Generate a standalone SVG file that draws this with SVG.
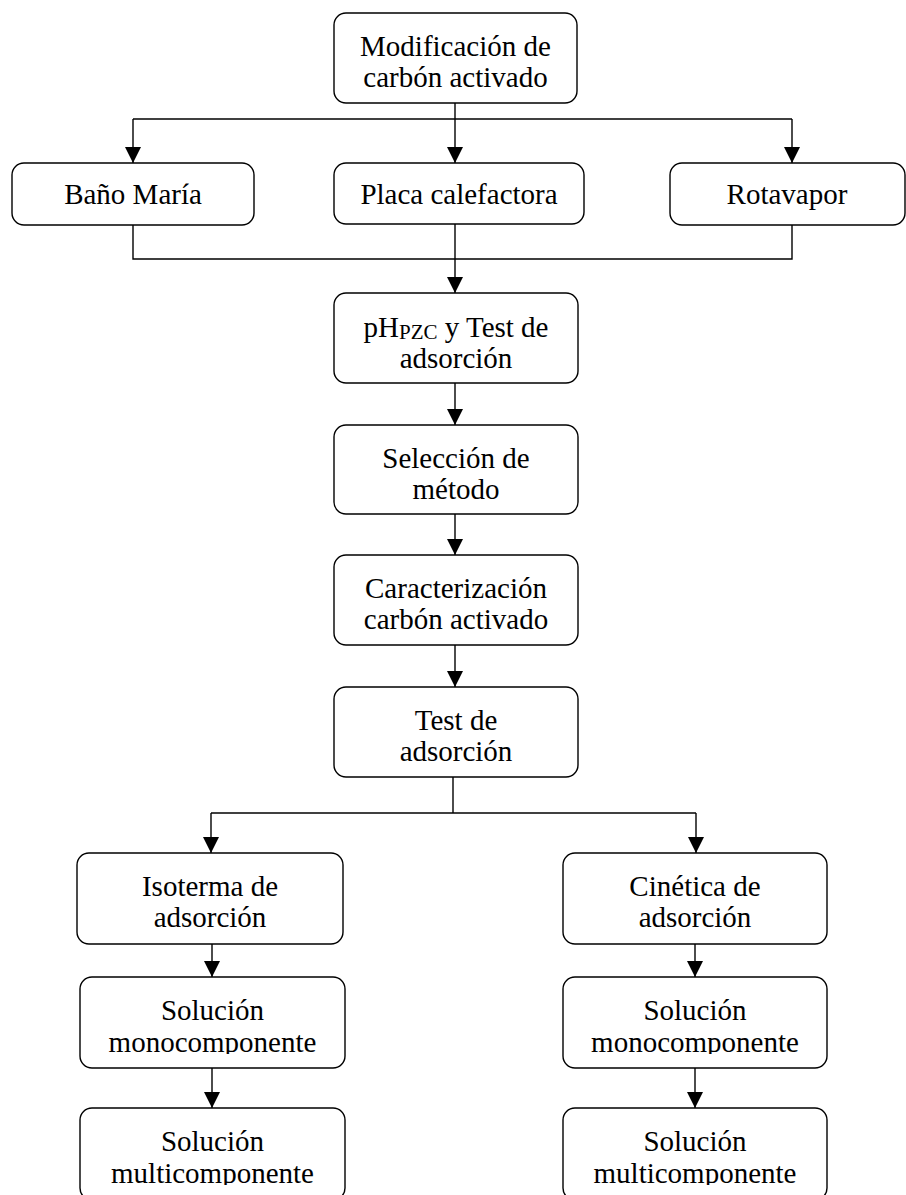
<svg xmlns="http://www.w3.org/2000/svg" width="906" height="1195" viewBox="0 0 906 1195">
<style>
.box{fill:#fff;stroke:#000;stroke-width:1.4}
.t{font-family:"Liberation Serif","Times New Roman",serif;font-size:29px;fill:#000;text-anchor:middle}
.c{fill:none;stroke:#000;stroke-width:1.4}
</style>
<defs>
<marker id="ah" markerWidth="16" markerHeight="16" refX="16" refY="8" orient="auto" markerUnits="userSpaceOnUse">
<path d="M0,0 L16,8 L0,16 z" fill="#000"/>
</marker>
<clipPath id="clipL1"><rect x="0" y="970" width="453" height="84"/></clipPath>
<clipPath id="clipR1"><rect x="453" y="970" width="453" height="84"/></clipPath>
<clipPath id="clipB"><rect x="0" y="1100" width="906" height="85"/></clipPath>
</defs>
<rect width="906" height="1195" fill="#fff"/>
<g id="connectors">
<path class="c" d="M455,103 V119"/>
<path class="c" d="M133,119 H792"/>
<path class="c" d="M133,119 V163" marker-end="url(#ah)"/>
<path class="c" d="M455,119 V163" marker-end="url(#ah)"/>
<path class="c" d="M792,119 V163" marker-end="url(#ah)"/>
<path class="c" d="M133,225 V259 H792 V225"/>
<path class="c" d="M455,224 V293" marker-end="url(#ah)"/>
<path class="c" d="M455,383 V425" marker-end="url(#ah)"/>
<path class="c" d="M455,514 V555" marker-end="url(#ah)"/>
<path class="c" d="M455,645 V687" marker-end="url(#ah)"/>
<path class="c" d="M453,777 V813"/>
<path class="c" d="M211,813 H696"/>
<path class="c" d="M211,813 V853" marker-end="url(#ah)"/>
<path class="c" d="M696,813 V853" marker-end="url(#ah)"/>
<path class="c" d="M212,944 V977" marker-end="url(#ah)"/>
<path class="c" d="M695,944 V977" marker-end="url(#ah)"/>
<path class="c" d="M212,1068 V1108" marker-end="url(#ah)"/>
<path class="c" d="M695,1068 V1108" marker-end="url(#ah)"/>
</g>
<g id="n-mod">
<rect class="box" x="334" y="13" width="243" height="90" rx="12"/>
<text class="t" x="455.5" y="56">Modificación de</text>
<text class="t" x="455.5" y="87">carbón activado</text>
</g>
<g id="n-bano">
<rect class="box" x="12" y="163" width="242" height="62" rx="12"/>
<text class="t" x="133" y="204">Baño María</text>
</g>
<g id="n-placa">
<rect class="box" x="334" y="163" width="250" height="61" rx="12"/>
<text class="t" x="459" y="204">Placa calefactora</text>
</g>
<g id="n-rota">
<rect class="box" x="670" y="163" width="235" height="62" rx="12"/>
<text class="t" x="787" y="204">Rotavapor</text>
</g>
<g id="n-ph">
<rect class="box" x="334" y="293" width="244" height="90" rx="12"/>
<text class="t" x="456" y="337">pH<tspan font-size="21" dy="2">PZC</tspan><tspan dy="-2"> y Test de</tspan></text>
<text class="t" x="456" y="368">adsorción</text>
</g>
<g id="n-sel">
<rect class="box" x="334" y="425" width="244" height="89" rx="12"/>
<text class="t" x="456" y="468">Selección de</text>
<text class="t" x="456" y="499">método</text>
</g>
<g id="n-car">
<rect class="box" x="334" y="555" width="244" height="90" rx="12"/>
<text class="t" x="456" y="598">Caracterización</text>
<text class="t" x="456" y="629">carbón activado</text>
</g>
<g id="n-test">
<rect class="box" x="334" y="687" width="244" height="90" rx="12"/>
<text class="t" x="456" y="730">Test de</text>
<text class="t" x="456" y="761">adsorción</text>
</g>
<g id="n-iso">
<rect class="box" x="77" y="853" width="266" height="91" rx="12"/>
<text class="t" x="210" y="896">Isoterma de</text>
<text class="t" x="210" y="927">adsorción</text>
</g>
<g id="n-cin">
<rect class="box" x="563" y="853" width="264" height="91" rx="12"/>
<text class="t" x="695" y="896">Cinética de</text>
<text class="t" x="695" y="927">adsorción</text>
</g>
<g id="n-mono-l">
<rect class="box" x="80" y="977" width="265" height="91" rx="12"/>
<text class="t" x="212.5" y="1020">Solución</text>
<text class="t" x="212.5" y="1052" clip-path="url(#clipL1)">monocomponente</text>
</g>
<g id="n-mono-r">
<rect class="box" x="563" y="977" width="264" height="91" rx="12"/>
<text class="t" x="695" y="1020">Solución</text>
<text class="t" x="695" y="1052" clip-path="url(#clipR1)">monocomponente</text>
</g>
<g id="n-multi-l">
<rect class="box" x="80" y="1108" width="265" height="92" rx="12"/>
<text class="t" x="212.5" y="1151">Solución</text>
<text class="t" x="212.5" y="1183" clip-path="url(#clipB)">multicomponente</text>
</g>
<g id="n-multi-r">
<rect class="box" x="563" y="1108" width="264" height="92" rx="12"/>
<text class="t" x="695" y="1151">Solución</text>
<text class="t" x="695" y="1183" clip-path="url(#clipB)">multicomponente</text>
</g>
</svg>
